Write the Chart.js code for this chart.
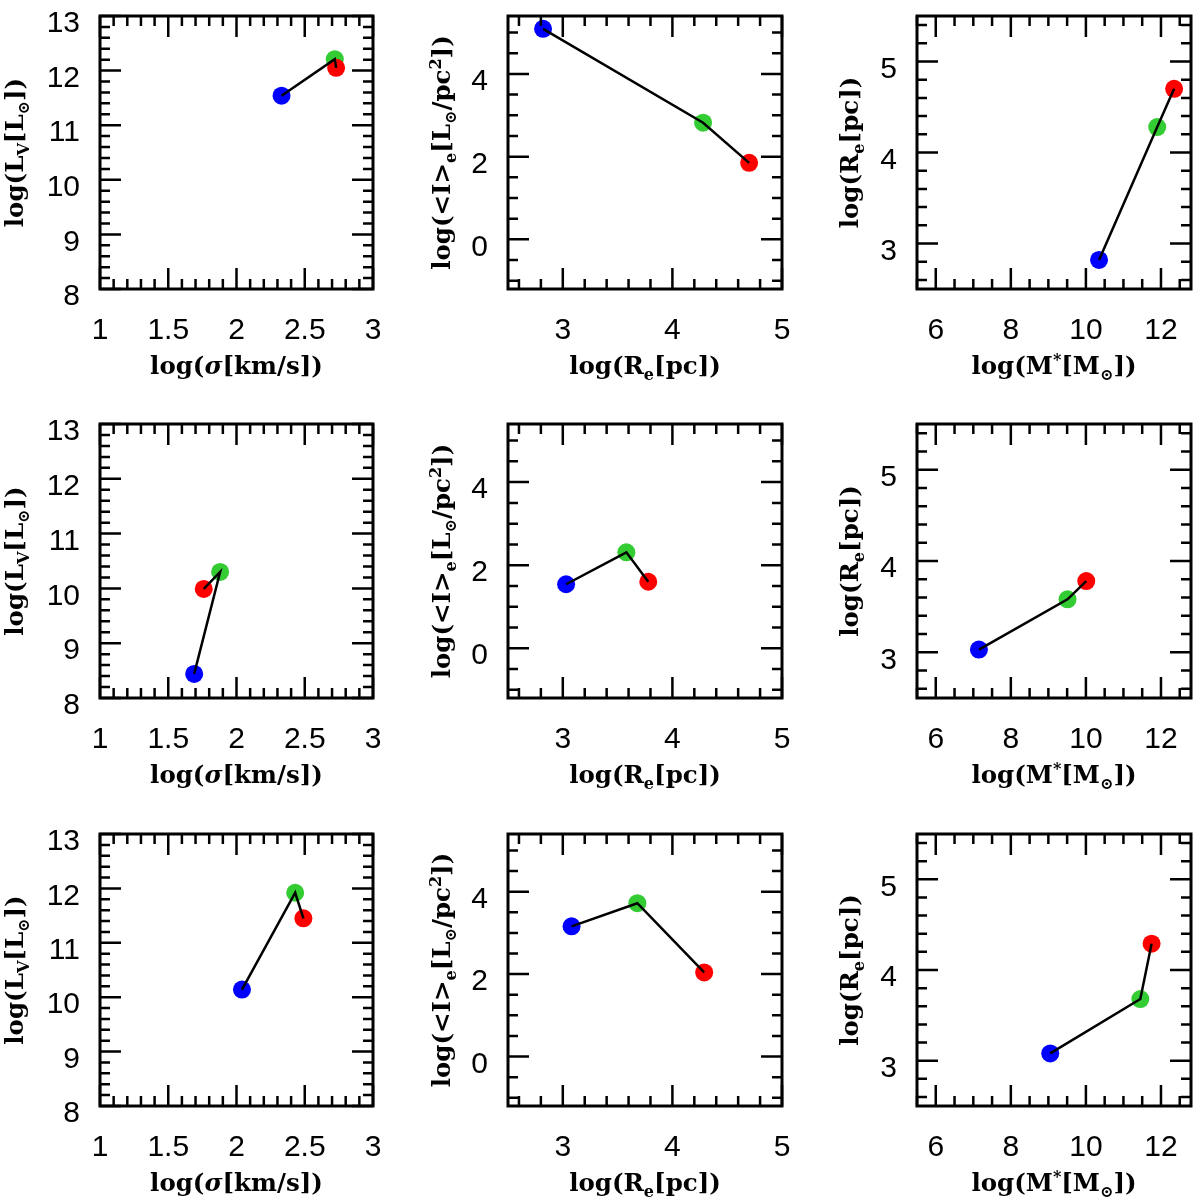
<!DOCTYPE html>
<html>
<head>
<meta charset="utf-8">
<script src="https://cdn.jsdelivr.net/npm/chart.js@4.4.0/dist/chart.umd.min.js"></script>
<style>
  html, body { margin: 0; padding: 0; background: #fff; }
  #page { position: relative; width: 1200px; height: 1202px; overflow: hidden; }
  .cell { position: absolute; }
</style>
</head>
<body>
<div id="page"></div>
<script>
// blue -> green -> red, same order in every panel
const pointColors = ["#0000ff", "#33cc33", "#ff0000"];

// top row
const sigmaA = [2.33, 2.72, 2.73];
const lumA = [11.54, 12.21, 12.05];
const reA = [2.82, 4.28, 4.70];
const surfA = [5.09, 2.82, 1.85];
const massA = [10.35, 11.90, 12.35];

// middle row
const sigmaB = [1.69, 1.88, 1.76];
const lumB = [8.44, 10.30, 9.99];
const reB = [3.03, 3.58, 3.78];
const surfB = [1.54, 2.31, 1.60];
const massB = [7.15, 9.51, 10.01];

// bottom row
const sigmaC = [2.04, 2.43, 2.49];
const lumC = [10.14, 11.92, 11.45];
const reC = [3.08, 3.68, 4.29];
const surfC = [3.16, 3.72, 2.04];
const massC = [9.05, 11.45, 11.75];

// labelled (long) ticks
const sigmaTicks = [1, 1.5, 2, 2.5, 3];
const lumTicks = [8, 9, 10, 11, 12, 13];
const reTicks = [3, 4, 5];
const surfTicks = [0, 2, 4];
const massTicks = [6, 8, 10, 12];

// axis titles as pieces: [text, style]
const sigmaTitle = [["log(", ""], ["\u03c3", "it"], ["[km/s])", ""]];
const lumTitle = [["log(L", ""], ["V", "sub"], ["[L", ""], ["\u2299", "sub"], ["])", ""]];
const reTitle = [["log(R", ""], ["e", "sub"], ["[pc])", ""]];
const surfTitle = [["log(<I>", ""], ["e", "sub"], ["[L", ""], ["\u2299", "sub"], ["/pc", ""], ["2", "sup"], ["])", ""]];
const massTitle = [["log(M", ""], ["*", "sup"], ["[M", ""], ["\u2299", "sub"], ["])", ""]];

const axSigma = { min: 1, max: 3, minor: 0.1, labels: sigmaTicks, title: sigmaTitle };
const axLum = { min: 8, max: 13, minor: 0.2, labels: lumTicks, title: lumTitle };
const axReX = { min: 2.5, max: 5, minor: 0.2, labels: reTicks, title: reTitle };
const axSurf = { min: -1.2, max: 5.4, minor: 0.5, labels: surfTicks, title: surfTitle };
const axMass = { min: 5.5, max: 12.8, minor: 0.5, labels: massTicks, title: massTitle };
const axReY = { min: 2.5, max: 5.5, minor: 0.2, labels: reTicks, title: reTitle };

const rowsData = [
  [sigmaA, lumA, reA, surfA, massA],
  [sigmaB, lumB, reB, surfB, massB],
  [sigmaC, lumC, reC, surfC, massC]
];

// page layout (plot boxes in page pixels)
const colBox = [[100, 373], [508, 782], [917, 1191]];
const rowBox = [[16, 289], [424, 698], [834, 1106]];
const cellTop = [0, 400, 800];
const cellH = [400, 400, 402];
const yTitleGap = [77, 58, 59];

const isMajor = (v, list) => list.some(m => Math.abs(m - v) < 1e-6);

function minorValues(ax) {
  const out = [];
  for (let k = Math.ceil(ax.min / ax.minor - 1e-9); k * ax.minor <= ax.max + 1e-9; k++) {
    out.push(Math.round(k * ax.minor * 1e6) / 1e6);
  }
  return out;
}

function drawRich(ctx, parts, x, y, vertical) {
  const big = "bold 24.5px 'DejaVu Serif', serif";
  const small = "bold 16px 'DejaVu Serif', serif";
  const fontOf = k => (k === "sub" || k === "sup") ? small : (k === "it" ? "italic " + big : big);
  let total = 0;
  parts.forEach(([t, k]) => { ctx.font = fontOf(k); total += ctx.measureText(t).width; });
  ctx.save();
  ctx.translate(x, y);
  if (vertical) ctx.rotate(-Math.PI / 2);
  ctx.fillStyle = "#000";
  ctx.textBaseline = "alphabetic";
  ctx.textAlign = "left";
  let cx = -total / 2;
  parts.forEach(([t, k]) => {
    ctx.font = fontOf(k);
    const dy = k === "sub" ? 6 : (k === "sup" ? -9 : 0);
    ctx.fillText(t, cx, dy);
    cx += ctx.measureText(t).width;
  });
  ctx.restore();
}

// frame, inward ticks on all sides, and axis titles
function makeBox(ax, ay, gap) {
  return {
    id: "box",
    afterDraw(chart) {
      const { ctx, chartArea: a } = chart;
      const xs = chart.scales.x, ys = chart.scales.y;
      ctx.save();
      ctx.strokeStyle = "#000";
      ctx.lineWidth = 2.5;
      ctx.beginPath();
      xs.ticks.forEach(t => {
        const px = xs.getPixelForValue(t.value);
        const len = isMajor(t.value, ax.labels) ? 21 : 10;
        ctx.moveTo(px, a.bottom); ctx.lineTo(px, a.bottom - len);
        ctx.moveTo(px, a.top); ctx.lineTo(px, a.top + len);
      });
      ys.ticks.forEach(t => {
        const py = ys.getPixelForValue(t.value);
        const len = isMajor(t.value, ay.labels) ? 21 : 10;
        ctx.moveTo(a.left, py); ctx.lineTo(a.left + len, py);
        ctx.moveTo(a.right, py); ctx.lineTo(a.right - len, py);
      });
      ctx.stroke();
      ctx.lineWidth = 3;
      ctx.strokeRect(a.left, a.top, a.right - a.left, a.bottom - a.top);
      drawRich(ctx, ax.title, (a.left + a.right) / 2, a.bottom + 85, false);
      drawRich(ctx, ay.title, a.left - gap, (a.top + a.bottom) / 2, true);
      ctx.restore();
    }
  };
}

function scaleOpts(ax, horizontal, fitSize) {
  return {
    type: "linear",
    min: ax.min,
    max: ax.max,
    grid: { display: false, drawTicks: false },
    border: { display: false },
    afterBuildTicks: s => { s.ticks = minorValues(ax).map(v => ({ value: v })); },
    afterFit: s => {
      if (horizontal) { s.height = fitSize; s.paddingLeft = 0; s.paddingRight = 0; }
      else { s.width = fitSize; s.paddingTop = 0; s.paddingBottom = 0; }
    },
    ticks: {
      autoSkip: false,
      maxRotation: 0,
      padding: horizontal ? 24 : 20,
      labelOffset: horizontal ? 0 : 8,
      color: "#000",
      font: { family: "'Liberation Sans', Arial, sans-serif", size: 30, lineHeight: 1.2 },
      callback: v => isMajor(v, ax.labels) ? String(v) : ""
    }
  };
}

const page = document.getElementById("page");

rowsData.forEach(([sigma, lum, re, surf, mass], r) => {
  const panels = [
    { xs: sigma, ys: lum, ax: axSigma, ay: axLum },
    { xs: re, ys: surf, ax: axReX, ay: axSurf },
    { xs: mass, ys: re, ax: axMass, ay: axReY }
  ];
  panels.forEach((p, c) => {
    const cell = document.createElement("div");
    cell.className = "cell";
    cell.style.left = (c * 400) + "px";
    cell.style.top = cellTop[r] + "px";
    const canvas = document.createElement("canvas");
    canvas.width = 400;
    canvas.height = cellH[r];
    cell.appendChild(canvas);
    page.appendChild(cell);

    const pts = p.xs.map((x, i) => ({ x: x, y: p.ys[i] }));

    new Chart(canvas.getContext("2d"), {
      type: "scatter",
      data: {
        datasets: [
          {
            data: pts,
            showLine: true,
            borderColor: "#000",
            borderWidth: 2.5,
            pointRadius: 0,
            fill: false,
            order: 0
          },
          {
            data: pts,
            showLine: false,
            pointRadius: 9,
            pointBorderWidth: 0,
            pointBackgroundColor: pointColors,
            pointBorderColor: pointColors,
            order: 1
          }
        ]
      },
      options: {
        responsive: false,
        animation: false,
        events: [],
        layout: {
          padding: {
            left: 0,
            top: rowBox[r][0] - cellTop[r],
            right: c * 400 + 400 - colBox[c][1],
            bottom: 0
          }
        },
        plugins: { legend: { display: false }, tooltip: { enabled: false } },
        scales: {
          x: scaleOpts(p.ax, true, cellTop[r] + cellH[r] - rowBox[r][1]),
          y: scaleOpts(p.ay, false, colBox[c][0] - c * 400)
        }
      },
      plugins: [makeBox(p.ax, p.ay, yTitleGap[c])]
    });
  });
});
</script>
</body>
</html>
